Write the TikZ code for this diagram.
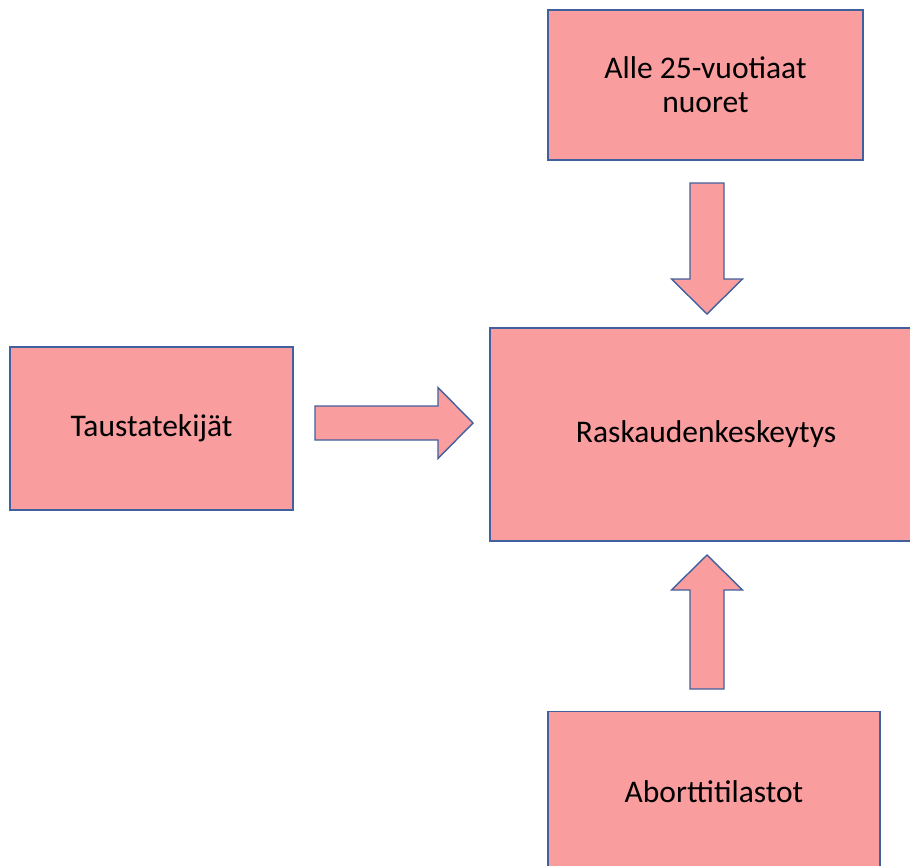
\documentclass[tikz,border=0pt]{standalone}
\usepackage{fontspec}
\setmainfont{Carlito}
\definecolor{boxfill}{RGB}{249,157,158}
\definecolor{boxline}{RGB}{65,96,158}
\tikzset{
    box/.style={draw=boxline,fill=boxfill,line width=1.4pt,rectangle,
        inner sep=0pt,align=center,font=\fontsize{31.5}{34}\selectfont},
    blockarrow/.style={draw=boxline,fill=boxfill,line width=1.4pt,line join=miter}
}
\begin{document}
\begin{tikzpicture}[x=1pt,y=-1pt]
    \useasboundingbox (0,0) rectangle (910,865);
    % boxes
    \node[box,minimum width=315pt,minimum height=150pt] (nuoret) at (705.5,85) {Alle 25-vuotiaat\\nuoret};
    \node[box,minimum width=283pt,minimum height=163pt] (tausta) at (151.5,428.5) {Taustatekijät};
    \node[box,minimum width=432pt,minimum height=213pt] (raskaus) at (706,434.5) {Raskaudenkeskeytys};
    \node[box,minimum width=332pt,minimum height=160pt] (abortti) at (714,791.5) {Aborttitilastot};
    % block arrows
    \def\sw{17}
    \def\hw{35.5}
    \draw[blockarrow] (707-\sw,183) -- (707+\sw,183) -- (707+\sw,279) -- (707+\hw,279)
        -- (707,314) -- (707-\hw,279) -- (707-\sw,279) -- cycle;
    \draw[blockarrow] (315,423-\sw) -- (438,423-\sw) -- (438,423-\hw) -- (473,423)
        -- (438,423+\hw) -- (438,423+\sw) -- (315,423+\sw) -- cycle;
    \draw[blockarrow] (707-\sw,689) -- (707+\sw,689) -- (707+\sw,590) -- (707+\hw,590)
        -- (707,555) -- (707-\hw,590) -- (707-\sw,590) -- cycle;
\end{tikzpicture}
\end{document}
